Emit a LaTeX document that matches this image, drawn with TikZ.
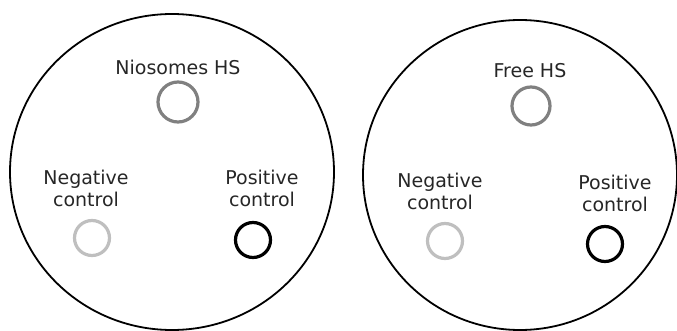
\documentclass[tikz,border=0pt]{standalone}
\usepackage{fontspec}
\setmainfont{DejaVu Sans}
\tikzset{
	platetext/.style={font=\fontsize{19}{22}\selectfont, text=black!85, align=center, inner sep=0pt, anchor=north}
}
\tikzset{
	well/.style={circle, draw, line width=3.2pt, minimum size=35pt, inner sep=0pt}
}

\begin{document}
\begin{tikzpicture}[x=1pt, y=-1pt]
      \useasboundingbox (0,0) rectangle (677,331);
      % the two plates
      \draw[line width=1.8pt] (172,172) ellipse [x radius=162, y radius=158];
      \draw[line width=1.8pt] (520,175) ellipse [x radius=157, y radius=155];
      % left plate
      \node[well, draw=black!50, minimum size=40pt] (nioswell) at (178,102) {};
      \node[well, draw=black!25] (negwellA) at (92,238) {};
      \node[well, draw=black] (poswellA) at (253,240) {};
      \node[platetext] (niostext) at (178,60) {Niosomes HS};
      \node[platetext] (negtextA) at (86,170) {Negative\\control};
      \node[platetext] (postextA) at (262,170) {Positive\\control};
      % right plate
      \node[well, draw=black!50, minimum size=38pt] (freewell) at (531,106) {};
      \node[well, draw=black!25] (negwellB) at (445,241) {};
      \node[well, draw=black] (poswellB) at (605,244) {};
      \node[platetext] (freetext) at (530,63) {Free HS};
      \node[platetext] (negtextB) at (440,173) {Negative\\control};
      \node[platetext] (postextB) at (615,175) {Positive\\control};
\end{tikzpicture}
\end{document}
